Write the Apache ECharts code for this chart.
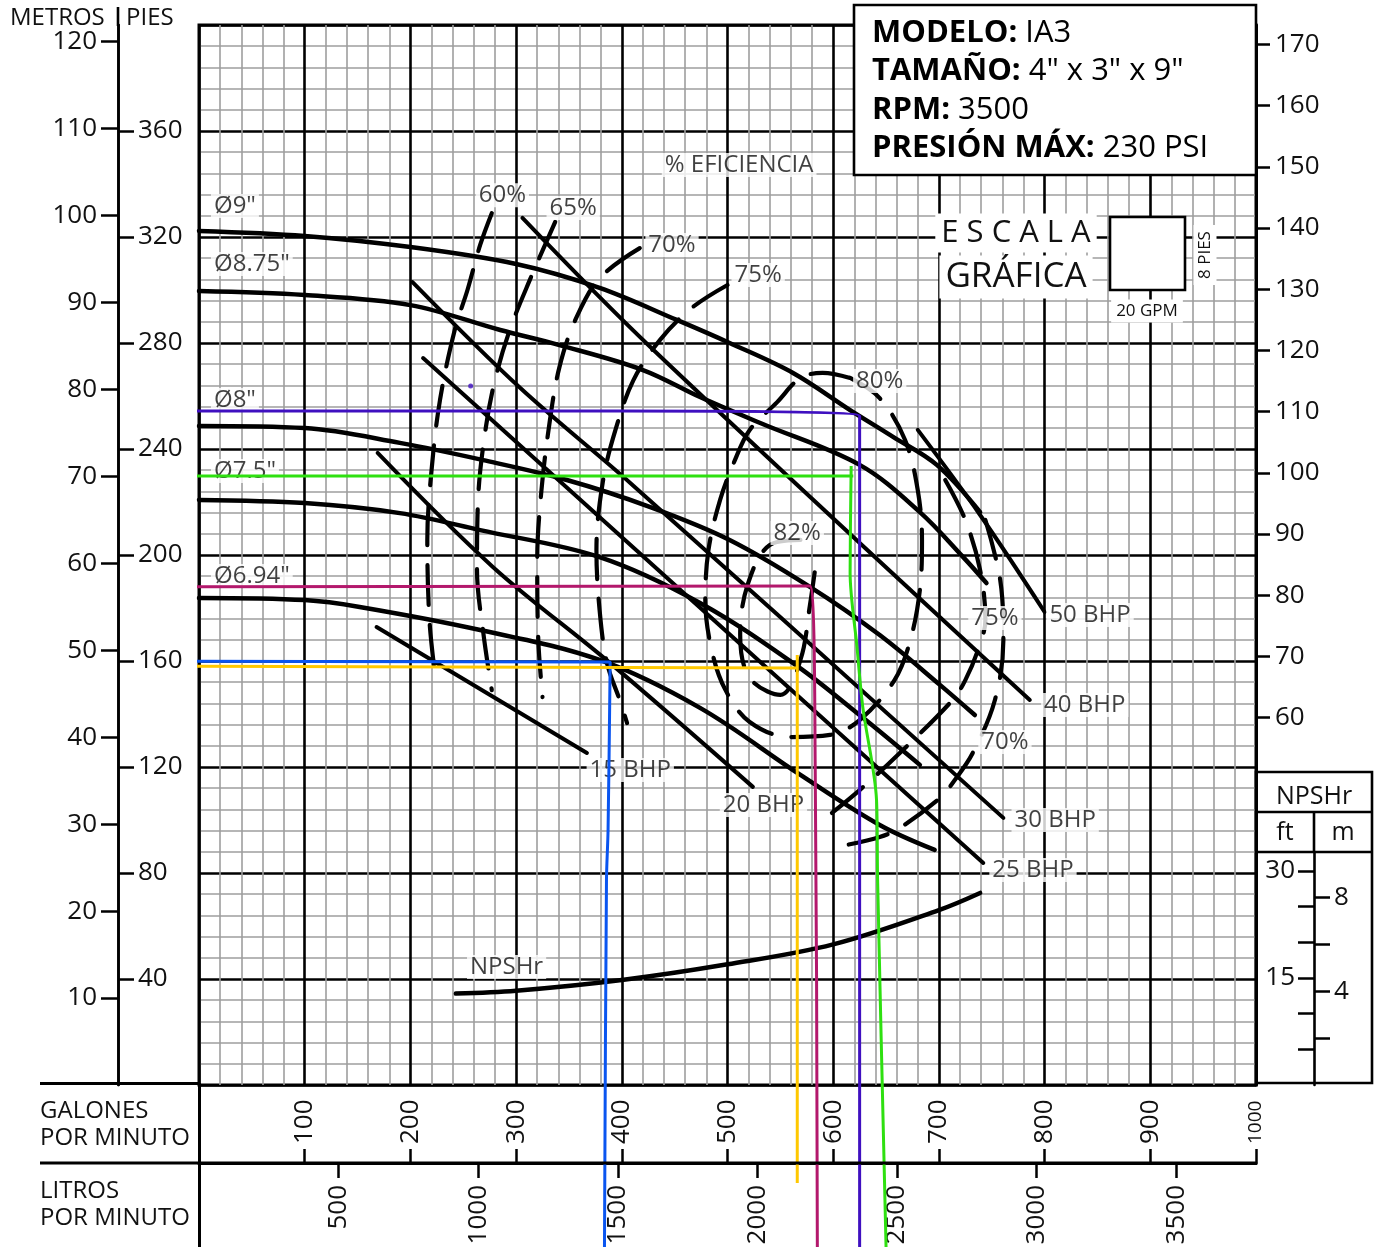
<!DOCTYPE html>
<html>
<head>
<meta charset="utf-8">
<title>Curva de bomba IA3</title>
<script src="https://cdn.jsdelivr.net/npm/echarts@6/dist/echarts.min.js"></script>
<style>
  html, body { margin: 0; padding: 0; background: #fff; }
  #chart { width: 1382px; height: 1247px; }
</style>
</head>
<body>
<div id="chart"></div>
<script>
const FONT = "'Open Sans', 'Noto Sans', sans-serif";

// ---- scales ----
const GPM_MAX = 1000;
const FT_MAX = 400;
const M_MAX = FT_MAX / 3.28084;
const PSI_MAX = FT_MAX / 2.31;
const LPM_MAX = GPM_MAX * 3.78541;
const NPSH_MAX = 148.46;      // NPSHr (ft) scale over the main grid height
const NPSH_BOX_MAX = 32.63;   // NPSHr (ft) scale inside the side box
const NPSH_BOX_M_MAX = NPSH_BOX_MAX / 3.28084;

// ---- tick labels ----
const gpmTicks = [100, 200, 300, 400, 500, 600, 700, 800, 900, 1000];
const lpmTicks = [500, 1000, 1500, 2000, 2500, 3000, 3500];
const feetTicks = [40, 80, 120, 160, 200, 240, 280, 320, 360];
const meterTicks = [10, 20, 30, 40, 50, 60, 70, 80, 90, 100, 110, 120];
const psiTicks = [60, 70, 80, 90, 100, 110, 120, 130, 140, 150, 160, 170];
const npshFtTicks = [5, 10, 15, 20, 25, 30];
const npshFtLabels = [15, 30];
const npshMTicks = [2, 4, 6, 8];
const npshMLabels = [4, 8];

// ---- impeller head curves [GPM, ft] ----
const imp900 = [[0,322.3],[100,320.4],[200,316.2],[300,309.8],[379,300.8],[452,288.7],[502,280],[562,268.7],[616,254.7],[657,244.5],[698,234],[739,216.2]];
const imp875 = [[0,299.6],[100,298.1],[200,294.3],[285,284.9],[341,279.2],[420,269.8],[474,259.6],[531,249.8],[625,234],[682,216.2],[723,199.2],[745,189.4]];
const imp800 = [[0,248.7],[100,247.9],[190,242.3],[269,235.8],[348,228.3],[427,218.1],[502,205.7],[578,188],[644,169.8],[701,151],[734,139.6]];
const imp750 = [[0,220.8],[100,219.6],[190,215.8],[266,209.4],[379,199.2],[474,181.9],[566,158.1],[625,139.6],[682,120.8]];
const imp694 = [[0,183.8],[100,183],[152,180.4],[266,171.7],[379,160.4],[474,142.3],[569,117],[644,98.1],[696,88.7]];

// ---- power lines [GPM, ft] ----
const bhp15 = [[168,172.8],[367,125.3]];
const bhp20 = [[169,238.5],[278,195.5],[389,159.2],[524,112.5]];
const bhp25 = [[212,274.3],[742,83.8]];
const bhp30 = [[202,303],[304,263],[408,227.2],[761,100.8]];
const bhp40 = [[306,327.2],[427,278.5],[786,145.3]];
const bhp50 = [[680,247.2],[739,215.1],[800,178.5]];

// ---- efficiency curves [GPM, ft] ----
const eff60 = [[277,329],[266,317],[254,300],[242,285],[228,258.5],[220,232],[216,205.7],[218,175.5],[223,155.8]];
const eff65 = [[337,325.7],[313,303.8],[294,284.9],[280,266],[271,247.2],[264,220.8],[263,194.3],[269,170.6],[277,149]];
const eff70 = [[417,315.8],[379,304.5],[356,288.7],[341,270.9],[332,250.9],[324,224.5],[320,198.1],[321,167.9],[325,146.4]];
const eff75 = [[500,301.9],[466,293.2],[436,281.1],[411,266],[394,247.2],[382,227.5],[376,201.9],[379,179.2],[386,159.2],[398,145.3],[405,136.6]];
const eff80 = [[616,266.8],[590,268.7],[569,266.8],[547,257.7],[521,247.2],[507,235.8],[493,220.8],[482,201.9],[479,183],[485,164.2],[498,149.1],[521,137],[559,131.3],[597,132.1],[625,137.7],[658,152.8],[673,167.9],[682,186.8],[684,205.7],[680,224.5],[668,243.4],[644,259.2],[616,266.8]];
const eff82 = [[569,205.7],[540,203.8],[519,188.7],[512,169.8],[521,153.6],[550,147.2],[569,160.4],[578,181.1],[585,200.8]];
const eff75r = [[706,228.3],[725,213.2],[739,194.3],[744,175.5],[737,164.2],[725,152.8],[713,145.3],[663,125.3],[625,111.3],[588,99.2]];
const eff70r = [[744,213.2],[758,190.6],[761,167.9],[753,145.3],[732,125.3],[713,114],[701,108.3],[663,97],[644,93.6],[613,90.6]];

// ---- NPSHr [GPM, ft] ----
const npshr = [[243,12.8],[300,13.2],[400,14.7],[500,16.9],[600,19.7],[700,24.5],[739,26.9]];

// ---- operating point guides [GPM, ft] ----
const guideBlue = [[-172,160.8],[-103,160],[389,159.6],[387,96.2],[385.5,77.4],[383.6,-61.1]];
const guideYellowH = [[-105,158.1],[566,157.4]];
const guideYellowV = [[566,162.3],[566,-37]];
const guideMagenta = [[-188,187.9],[578,188.3],[583,118.9],[585,-61.1]];
const guidePurple = [[-181,258.9],[-148,257.4],[-78,255.5],[-40,254.3],[200,254.3],[400,254.3],[625,252.4],[625,-61.1]];
const guideGreenH = [[-81,229.8],[619,229.8]];
const guideGreenV = [[617,233.6],[616,193.2],[622.5,165.3],[628,142.6],[641,107.5],[642,77.4],[650,-61.1]];
const markDot = [[257,263.8]];

// ---- in-plot labels [GPM, ft, text] ----
const plotLabels = [
  [34, 331.7, 'Ø9"'], [50, 309.8, 'Ø8.75"'], [34, 258.5, 'Ø8"'], [43.5, 231.7, 'Ø7.5"'], [50, 192.1, 'Ø6.94"'],
  [287, 335.8, '60%'], [354, 330.9, '65%'], [447.5, 317, '70%'], [529, 305.7, '75%'],
  [511, 347.2, '% EFICIENCIA'], [644, 265.7, '80%'], [566, 208.3, '82%'],
  [753, 176.2, '75%'], [762.5, 129.4, '70%'],
  [843, 177.4, '50 BHP'], [838, 143.4, '40 BHP'], [810, 100, '30 BHP'], [789, 81.1, '25 BHP'],
  [534, 105.7, '20 BHP'], [408, 118.9, '15 BHP'], [291, 44.5, 'NPSHr']
];

const BLACK = '#000';
function solid(data, w) {
  return { type: 'line', data, smooth: 0.35, showSymbol: false, symbol: 'none', z: 3, silent: true,
    lineStyle: { color: BLACK, width: w || 4.5, cap: 'round' } };
}
function dashed(data) {
  return { type: 'line', data, smooth: 0.35, showSymbol: false, symbol: 'none', z: 3, silent: true,
    lineStyle: { color: BLACK, width: 4.2, type: [40, 20], cap: 'round' } };
}
function guide(data, color, smooth) {
  return { type: 'line', data, smooth: smooth ? 0.3 : false, showSymbol: false, symbol: 'none', z: 8,
    clip: false, silent: true, lineStyle: { color, width: 3 } };
}

const tickLabelStyle = { color: '#111', fontFamily: FONT, fontSize: 26 };

const option = {
  animation: false,
  backgroundColor: '#fff',
  grid: [
    { left: 199, right: 126, top: 25, bottom: 162, show: true, borderColor: BLACK, borderWidth: 3,
      backgroundColor: 'transparent', containLabel: false, outerBoundsMode: 'none' },
    { left: 1314, right: 10, top: 852, bottom: 162, show: false, containLabel: false, outerBoundsMode: 'none' }
  ],
  xAxis: [
    { // grid lines
      gridIndex: 0, type: 'value', min: 0, max: GPM_MAX, interval: 100,
      axisLine: { show: false, onZero: false }, axisTick: { show: false }, axisLabel: { show: false },
      splitLine: { show: true, lineStyle: { color: BLACK, width: 2.6 } },
      minorTick: { show: false, splitNumber: 5 },
      minorSplitLine: { show: true, lineStyle: { color: '#9e9e9e', width: 1.6 } }
    },
    { // GPM scale
      gridIndex: 0, type: 'value', min: 0, max: GPM_MAX, interval: 100, position: 'bottom', offset: 78,
      axisLine: { show: true, onZero: false, lineStyle: { color: BLACK, width: 3 } },
      axisTick: { show: true, inside: true, length: 14, customValues: gpmTicks, lineStyle: { color: BLACK, width: 2.5 } },
      axisLabel: { show: true, inside: true, rotate: 90, margin: 19, customValues: gpmTicks, ...tickLabelStyle,
        formatter: v => v === 1000 ? '{s|1000}' : String(v), rich: { s: { fontSize: 19, fontFamily: FONT, color: '#111' } } },
      splitLine: { show: false }
    },
    { // L/min scale
      gridIndex: 0, type: 'value', min: 0, max: LPM_MAX, position: 'bottom', offset: 78,
      axisLine: { show: true, onZero: false, lineStyle: { color: BLACK, width: 3 } },
      axisTick: { show: true, inside: false, length: 15, customValues: lpmTicks, lineStyle: { color: BLACK, width: 2.5 } },
      axisLabel: { show: true, rotate: 90, margin: 22, customValues: lpmTicks, ...tickLabelStyle, formatter: v => String(v) },
      splitLine: { show: false }
    },
    { gridIndex: 1, type: 'value', min: 0, max: 1, show: false }
  ],
  yAxis: [
    { // grid lines
      gridIndex: 0, type: 'value', min: 0, max: FT_MAX, interval: 40,
      axisLine: { show: false }, axisTick: { show: false }, axisLabel: { show: false },
      splitLine: { show: true, lineStyle: { color: BLACK, width: 2.6 } },
      minorTick: { show: false, splitNumber: 5 },
      minorSplitLine: { show: true, lineStyle: { color: '#9e9e9e', width: 1.6 } }
    },
    { // feet
      gridIndex: 0, type: 'value', min: 0, max: FT_MAX, position: 'left', offset: 81,
      axisLine: { show: true, onZero: false, lineStyle: { color: BLACK, width: 2.6 } },
      axisTick: { show: true, inside: true, length: 16, customValues: feetTicks, lineStyle: { color: BLACK, width: 2.5 } },
      axisLabel: { show: true, inside: true, margin: 20, customValues: feetTicks, ...tickLabelStyle },
      splitLine: { show: false }
    },
    { // meters
      gridIndex: 0, type: 'value', min: 0, max: M_MAX, position: 'left', offset: 81,
      axisLine: { show: true, onZero: false, lineStyle: { color: BLACK, width: 2.6 } },
      axisTick: { show: true, inside: false, length: 17, customValues: meterTicks, lineStyle: { color: BLACK, width: 2.5 } },
      axisLabel: { show: true, margin: 21, customValues: meterTicks, ...tickLabelStyle },
      splitLine: { show: false }
    },
    { // psi
      gridIndex: 0, type: 'value', min: 0, max: PSI_MAX, position: 'right', offset: 0,
      axisLine: { show: true, onZero: false, lineStyle: { color: BLACK, width: 3 } },
      axisTick: { show: true, inside: false, length: 14, customValues: psiTicks, lineStyle: { color: BLACK, width: 2.5 } },
      axisLabel: { show: true, margin: 19, customValues: psiTicks, ...tickLabelStyle },
      splitLine: { show: false }
    },
    { // NPSHr scale used by the NPSHr curve
      gridIndex: 0, type: 'value', min: 0, max: NPSH_MAX, show: false
    },
    { // NPSHr box: feet
      gridIndex: 1, type: 'value', min: 0, max: NPSH_BOX_MAX, position: 'left',
      axisLine: { show: true, onZero: false, lineStyle: { color: BLACK, width: 2.6 } },
      axisTick: { show: true, inside: false, length: 16, customValues: npshFtTicks, lineStyle: { color: BLACK, width: 2.5 } },
      axisLabel: { show: true, margin: 19, customValues: npshFtLabels, ...tickLabelStyle },
      splitLine: { show: false }
    },
    { // NPSHr box: metres
      gridIndex: 1, type: 'value', min: 0, max: NPSH_BOX_M_MAX, position: 'left',
      axisLine: { show: false },
      axisTick: { show: true, inside: true, length: 16, customValues: npshMTicks, lineStyle: { color: BLACK, width: 2.5 } },
      axisLabel: { show: true, inside: true, margin: 20, customValues: npshMLabels, ...tickLabelStyle },
      splitLine: { show: false }
    }
  ],
  series: [
    solid(imp900), solid(imp875), solid(imp800), solid(imp750), solid(imp694),
    solid(bhp15, 4), solid(bhp20, 4), solid(bhp25, 4), solid(bhp30, 4), solid(bhp40, 4), solid(bhp50, 4),
    dashed(eff60), dashed(eff65), dashed(eff70), dashed(eff75), dashed(eff80), dashed(eff82), dashed(eff75r), dashed(eff70r),
    Object.assign(solid(npshr), { yAxisIndex: 4 }),
    {
      type: 'scatter', data: plotLabels, symbolSize: 1, z: 5, silent: true,
      itemStyle: { color: 'rgba(0,0,0,0)' },
      label: { show: true, position: 'inside', formatter: p => p.data[2], color: '#111',
        fontFamily: FONT, fontSize: 24, backgroundColor: '#fff', padding: [0, 3] }
    },
    guide(guideBlue, '#0a55f0', true),
    guide(guideYellowH, '#ffc800'),
    guide(guideYellowV, '#ffc800'),
    guide(guideMagenta, '#b3186c', true),
    guide(guidePurple, '#3f10c0', true),
    guide(guideGreenH, '#2ee010'),
    guide(guideGreenV, '#2ee010', true),
    { type: 'scatter', data: markDot, symbolSize: 5, z: 8, silent: true, itemStyle: { color: '#3f10c0' } }
  ],
  graphic: [
    // frame of the lower scale table and the head axis extension
    { type: 'line', z: 40, shape: { x1: 40, y1: 1083.5, x2: 200, y2: 1083.5 }, style: { stroke: BLACK, lineWidth: 3 } },
    { type: 'line', z: 40, shape: { x1: 40, y1: 1163, x2: 1256, y2: 1163 }, style: { stroke: BLACK, lineWidth: 3 } },
    { type: 'line', z: 40, shape: { x1: 199.5, y1: 1083, x2: 199.5, y2: 1247 }, style: { stroke: BLACK, lineWidth: 3 } },
    { type: 'line', z: 40, shape: { x1: 118, y1: 7, x2: 118, y2: 26 }, style: { stroke: BLACK, lineWidth: 2.6 } },
    { type: 'text', z: 40, x: 10, y: 18, style: { text: 'METROS', font: `24px ${FONT}`, fill: '#111', verticalAlign: 'middle' } },
    { type: 'text', z: 40, x: 126, y: 18, style: { text: 'PIES', font: `24px ${FONT}`, fill: '#111', verticalAlign: 'middle' } },
    { type: 'text', z: 40, x: 40, y: 1111, style: { text: 'GALONES', font: `24px ${FONT}`, fill: '#111', verticalAlign: 'middle' } },
    { type: 'text', z: 40, x: 40, y: 1138, style: { text: 'POR MINUTO', font: `24px ${FONT}`, fill: '#111', verticalAlign: 'middle' } },
    { type: 'text', z: 40, x: 40, y: 1191, style: { text: 'LITROS', font: `24px ${FONT}`, fill: '#111', verticalAlign: 'middle' } },
    { type: 'text', z: 40, x: 40, y: 1218, style: { text: 'POR MINUTO', font: `24px ${FONT}`, fill: '#111', verticalAlign: 'middle' } },

    // NPSHr side box
    { type: 'rect', z: 40, shape: { x: 1256, y: 772, width: 116, height: 311 }, style: { fill: 'none', stroke: BLACK, lineWidth: 2.6 } },
    { type: 'line', z: 40, shape: { x1: 1256, y1: 812, x2: 1372, y2: 812 }, style: { stroke: BLACK, lineWidth: 2.6 } },
    { type: 'line', z: 40, shape: { x1: 1256, y1: 852, x2: 1372, y2: 852 }, style: { stroke: BLACK, lineWidth: 2.6 } },
    { type: 'line', z: 40, shape: { x1: 1314, y1: 812, x2: 1314, y2: 852 }, style: { stroke: BLACK, lineWidth: 2.6 } },
    { type: 'text', z: 40, x: 1314, y: 797, style: { text: 'NPSHr', font: `25px ${FONT}`, fill: '#111', align: 'center', verticalAlign: 'middle' } },
    { type: 'text', z: 40, x: 1285, y: 833, style: { text: 'ft', font: `25px ${FONT}`, fill: '#111', align: 'center', verticalAlign: 'middle' } },
    { type: 'text', z: 40, x: 1343, y: 833, style: { text: 'm', font: `25px ${FONT}`, fill: '#111', align: 'center', verticalAlign: 'middle' } },

    // model data box
    { type: 'rect', z: 40, shape: { x: 854, y: 5, width: 402, height: 170 }, style: { fill: '#fff', stroke: BLACK, lineWidth: 2.6 } },
    { type: 'text', z: 41, x: 872, y: 33, style: { text: '{b|MODELO:} IA3', font: `31px ${FONT}`, fill: '#000', verticalAlign: 'middle',
        rich: { b: { fontWeight: 'bold', fontSize: 31, fontFamily: FONT } } } },
    { type: 'text', z: 41, x: 872, y: 71, style: { text: '{b|TAMAÑO:} 4" x 3" x 9"', font: `31px ${FONT}`, fill: '#000', verticalAlign: 'middle',
        rich: { b: { fontWeight: 'bold', fontSize: 31, fontFamily: FONT } } } },
    { type: 'text', z: 41, x: 872, y: 110, style: { text: '{b|RPM:} 3500', font: `31px ${FONT}`, fill: '#000', verticalAlign: 'middle',
        rich: { b: { fontWeight: 'bold', fontSize: 31, fontFamily: FONT } } } },
    { type: 'text', z: 41, x: 872, y: 148, style: { text: '{b|PRESIÓN MÁX:} 230 PSI', font: `31px ${FONT}`, fill: '#000', verticalAlign: 'middle',
        rich: { b: { fontWeight: 'bold', fontSize: 31, fontFamily: FONT } } } },

    // graphic scale legend
    { type: 'text', z: 40, x: 1016, y: 233, style: { text: 'E S C A L A', font: `31px ${FONT}`, fill: '#111', align: 'center', verticalAlign: 'middle', backgroundColor: '#fff', padding: [4, 6] } },
    { type: 'text', z: 40, x: 1016, y: 277, style: { text: 'GRÁFICA', font: `35px ${FONT}`, fill: '#111', align: 'center', verticalAlign: 'middle', backgroundColor: '#fff', padding: [4, 6] } },
    { type: 'rect', z: 40, shape: { x: 1110, y: 217, width: 75, height: 73 }, style: { fill: '#fff', stroke: BLACK, lineWidth: 2.6 } },
    { type: 'text', z: 40, x: 1205, y: 255, rotation: Math.PI / 2, style: { text: '8 PIES', font: `17px ${FONT}`, fill: '#111', align: 'center', verticalAlign: 'middle', backgroundColor: '#fff', padding: [3, 6] } },
    { type: 'text', z: 40, x: 1147, y: 311, style: { text: '20 GPM', font: `17px ${FONT}`, fill: '#111', align: 'center', verticalAlign: 'middle', backgroundColor: '#fff', padding: [3, 5] } }
  ]
};

const chart = echarts.init(document.getElementById('chart'), null, { renderer: 'canvas' });
chart.setOption(option);
</script>
</body>
</html>
